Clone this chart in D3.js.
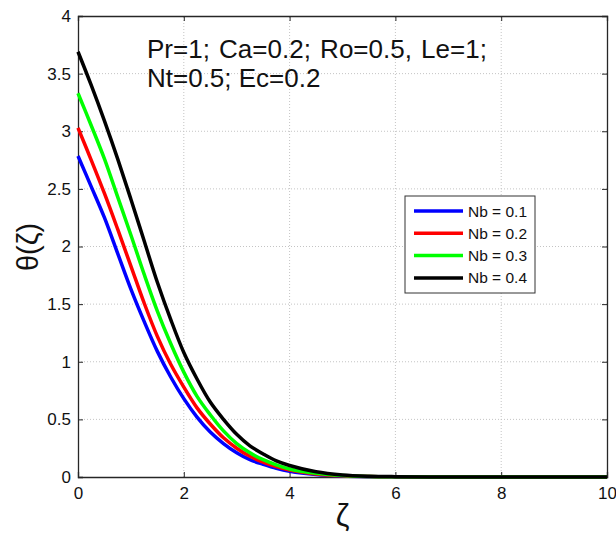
<!DOCTYPE html>
<html><head><meta charset="utf-8">
<script src="https://cdn.jsdelivr.net/npm/d3@7"></script>
<style>html,body{margin:0;padding:0;background:#fff;}svg{display:block;}</style>
</head><body>
<script>
const zeta = [0,0.25,0.5,0.75,1,1.25,1.5,1.75,2,2.25,2.5,2.75,3,3.25,3.5,3.75,4,4.5,5,5.5,6,7,8,9,10];
const nb01 = [2.785,2.52,2.25,1.94,1.63,1.35,1.09,0.87,0.68,0.52,0.39,0.29,0.21,0.15,0.11,0.075,0.05,0.022,0.009,0.003,0.001,0,0,0,0];
const nb02 = [3.03,2.75,2.46,2.15,1.83,1.51,1.22,0.98,0.78,0.60,0.46,0.34,0.25,0.18,0.13,0.09,0.06,0.027,0.011,0.004,0.0015,0,0,0,0];
const nb03 = [3.33,3.05,2.76,2.43,2.10,1.76,1.44,1.16,0.91,0.70,0.54,0.40,0.29,0.21,0.15,0.105,0.07,0.032,0.013,0.005,0.002,0,0,0,0];
const nb04 = [3.69,3.40,3.09,2.76,2.41,2.05,1.69,1.37,1.08,0.85,0.65,0.50,0.37,0.27,0.20,0.14,0.10,0.045,0.018,0.007,0.003,0.0005,0,0,0];
const seriesNames = ["Nb = 0.1","Nb = 0.2","Nb = 0.3","Nb = 0.4"];
const seriesColors = ["#0000ff","#ff0000","#00ff00","#000000"];
const xTicks = [0,2,4,6,8,10];
const yTicks = [0,0.5,1,1.5,2,2.5,3,3.5,4];
const annotation = ["Pr=1; Ca=0.2; Ro=0.5, Le=1;","Nt=0.5; Ec=0.2"];

const W = 616, H = 535;
const m = {left:78, right:9, top:16, bottom:58};
const svg = d3.select("body").append("svg").attr("width",W).attr("height",H);
const x = d3.scaleLinear().domain([0,10]).range([m.left, W-m.right]);
const y = d3.scaleLinear().domain([0,4]).range([H-m.bottom, m.top]);
const font = "'Liberation Sans', Arial, sans-serif";

// grid
const g = svg.append("g");
g.selectAll(".gx").data(xTicks.slice(1,-1)).enter().append("line")
  .attr("x1",d=>x(d)).attr("x2",d=>x(d)).attr("y1",y(0)).attr("y2",y(4))
  .attr("stroke","#c4c4c4").attr("stroke-width",1).attr("stroke-dasharray","1,2");
g.selectAll(".gy").data(yTicks.slice(1,-1)).enter().append("line")
  .attr("x1",x(0)).attr("x2",x(10)).attr("y1",d=>y(d)).attr("y2",d=>y(d))
  .attr("stroke","#c4c4c4").attr("stroke-width",1).attr("stroke-dasharray","1,2");

// axes (ticks inward)
const axB = svg.append("g").attr("transform",`translate(0,${y(0)})`)
  .call(d3.axisBottom(x).tickValues(xTicks).tickSize(-5).tickPadding(10).tickFormat(d3.format("d")));
const axL = svg.append("g").attr("transform",`translate(${x(0)},0)`)
  .call(d3.axisLeft(y).tickValues(yTicks).tickSize(-5).tickPadding(7).tickFormat(d=>String(d)));
const axT = svg.append("g").attr("transform",`translate(0,${y(4)})`)
  .call(d3.axisTop(x).tickValues(xTicks).tickSize(-5).tickFormat(""));
const axR = svg.append("g").attr("transform",`translate(${x(10)},0)`)
  .call(d3.axisRight(y).tickValues(yTicks).tickSize(-5).tickFormat(""));
[axB,axL,axT,axR].forEach(a=>{
  a.selectAll("path").attr("stroke","#262626").attr("stroke-width",1.3);
  a.selectAll("line").attr("stroke","#262626");
  a.selectAll("text").attr("font-family",font).attr("font-size",17).attr("fill","#111");
});

// curves
const series = [nb01,nb02,nb03,nb04];
const line = d3.line().x((d,i)=>x(zeta[i])).y(d=>y(d)).curve(d3.curveCatmullRom.alpha(0.5));
series.forEach((s,k)=>{
  svg.append("path").datum(s).attr("d",line).attr("fill","none")
    .attr("stroke",seriesColors[k]).attr("stroke-width",3.5).attr("stroke-linejoin","round");
});

// annotation
annotation.forEach((t,i)=>{
  svg.append("text").attr("x",147).attr("y",58+i*29).attr("font-family",font)
    .attr("font-size",26).attr("word-spacing",i===0?2:0).attr("fill","#111").text(t);
});

// legend
const lg = svg.append("g");
lg.append("rect").attr("x",405).attr("y",196).attr("width",130).attr("height",97)
  .attr("fill","#fff").attr("stroke","#333").attr("stroke-width",1);
seriesNames.forEach((n,k)=>{
  const yy = 211 + k*22.3;
  lg.append("line").attr("x1",414).attr("x2",463).attr("y1",yy).attr("y2",yy)
    .attr("stroke",seriesColors[k]).attr("stroke-width",3.5);
  lg.append("text").attr("x",468).attr("y",yy+5.5).attr("font-family",font)
    .attr("font-size",15.5).attr("fill","#111").text(n);
});

// axis labels
svg.append("text").attr("transform",`translate(38,247) rotate(-90)`).attr("text-anchor","middle")
  .attr("font-family",font).attr("font-size",29).attr("fill","#111").text("θ(ζ)");
svg.append("text").attr("x",(x(0)+x(10))/2).attr("y",526).attr("text-anchor","middle")
  .attr("font-family",font).attr("font-size",31).attr("fill","#111").text("ζ");
</script>
</body></html>
